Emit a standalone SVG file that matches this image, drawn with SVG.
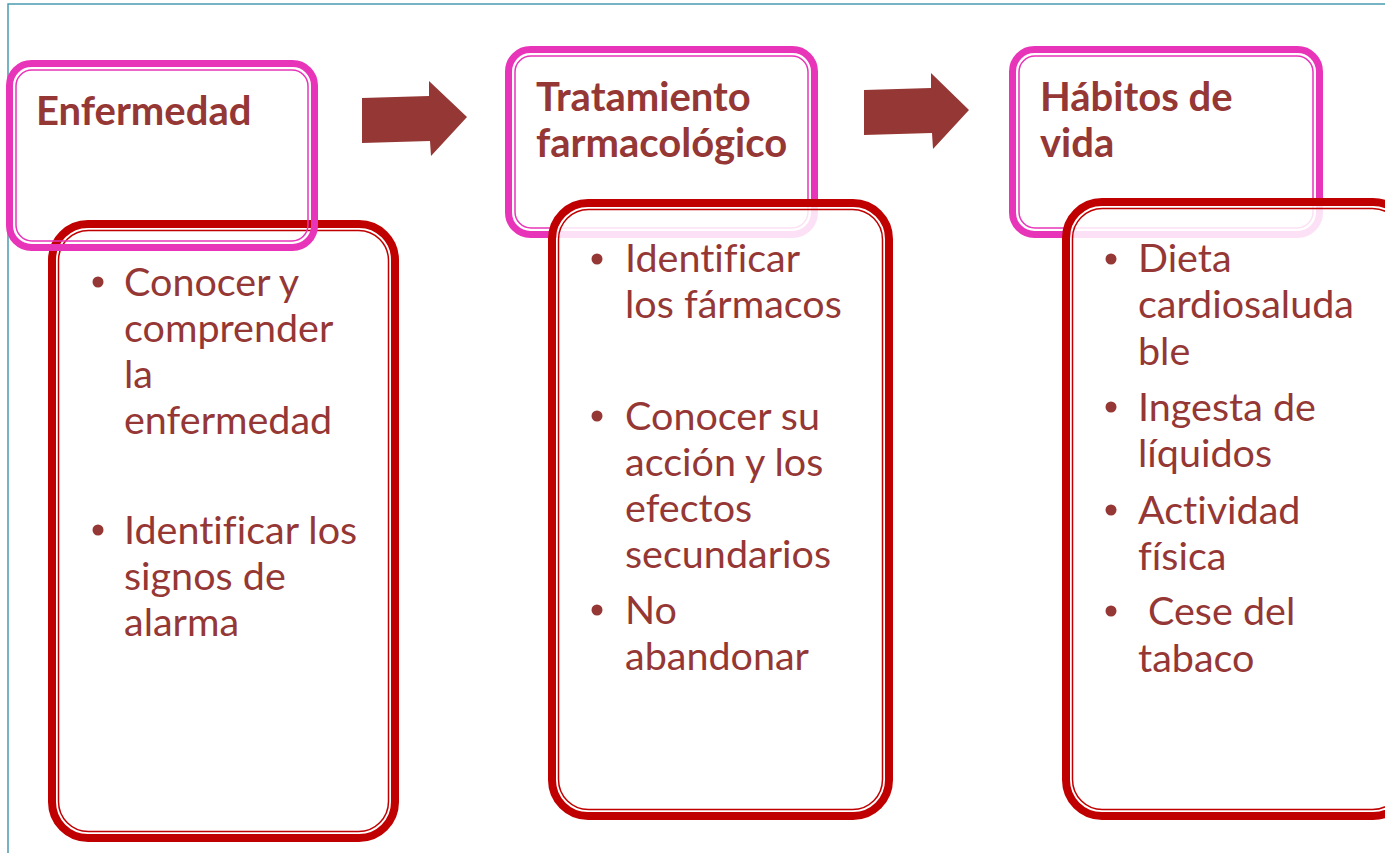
<svg xmlns="http://www.w3.org/2000/svg" width="1385" height="853" viewBox="0 0 1385 853">
<style>
.pk{fill:none;stroke:#E834B8;stroke-width:7}
.pki{fill:none;stroke:#E834B8;stroke-width:1.5}
.rd{stroke:#C00000;stroke-width:8}
.rdi{fill:none;stroke:#C00000;stroke-width:1.5}
.ttl{font-family:Lato,"Noto Sans",sans-serif;font-weight:bold;font-size:40px;fill:#953735;font-variant-ligatures:none}
.bd{font-family:Lato,"Noto Sans",sans-serif;font-size:39.5px;fill:#953735;font-variant-ligatures:none}
.bul{fill:#953735}
.arr{fill:#953735}
</style>
<rect x="0" y="0" width="1385" height="853" fill="#fff"/>
<rect x="8" y="4" width="1400" height="870" fill="none" stroke="#4A9AB0" stroke-width="1.5"/>
<g id="connectors">
<polygon class="arr" points="362,98 429,96 429,81 467,117 431,156 430,141 362,143"/>
<polygon class="arr" points="864,90 931,88 931,73 969,110 933,149 932,133 864,135"/>
</g>
<g id="node-enfermedad">
<rect class="rd" x="52" y="224" width="343" height="614" rx="36" fill="#fff"/>
<rect class="rdi" x="58.5" y="230.5" width="330" height="601" rx="30"/>
<rect class="pk" x="9.5" y="63.5" width="305" height="184" rx="22"/>
<rect class="pki" x="16" y="70" width="292" height="171" rx="16"/>
<text class="ttl" x="36" y="125">Enfermedad</text>
<circle class="bul" cx="98" cy="282" r="5.5"/>
<text class="bd" x="124" y="296">Conocer y</text>
<text class="bd" x="124" y="342">comprender</text>
<text class="bd" x="124" y="388">la</text>
<text class="bd" x="124" y="434">enfermedad</text>
<circle class="bul" cx="98" cy="530" r="5.5"/>
<text class="bd" x="124" y="544">Identificar los</text>
<text class="bd" x="124" y="590">signos de</text>
<text class="bd" x="124" y="636">alarma</text>
</g>
<g id="node-tratamiento">
<rect class="pk" x="508.5" y="49.5" width="306" height="185" rx="22"/>
<rect class="pki" x="515" y="56" width="293" height="172" rx="16"/>
<rect class="rd" x="552" y="203" width="337" height="613" rx="36" fill="#fff" fill-opacity="0.85"/>
<rect class="rdi" x="558.5" y="209.5" width="324" height="600" rx="30"/>
<text class="ttl" x="536" y="111">Tratamiento</text>
<text class="ttl" x="536" y="157">farmacológico</text>
<circle class="bul" cx="597" cy="259" r="5.5"/>
<text class="bd" x="625" y="272">Identificar</text>
<text class="bd" x="625" y="318">los fármacos</text>
<circle class="bul" cx="597" cy="416" r="5.5"/>
<text class="bd" x="625" y="430">Conocer su</text>
<text class="bd" x="625" y="476">acción y los</text>
<text class="bd" x="625" y="522">efectos</text>
<text class="bd" x="625" y="568">secundarios</text>
<circle class="bul" cx="597" cy="610" r="5.5"/>
<text class="bd" x="625" y="624">No</text>
<text class="bd" x="625" y="670">abandonar</text>
</g>
<g id="node-habitos">
<rect class="pk" x="1012.5" y="49.5" width="307" height="185" rx="22"/>
<rect class="pki" x="1019" y="56" width="294" height="172" rx="16"/>
<rect class="rd" x="1066" y="202" width="343" height="614" rx="36" fill="#fff" fill-opacity="0.85"/>
<rect class="rdi" x="1072.5" y="208.5" width="330" height="601" rx="30"/>
<text class="ttl" x="1040" y="111">Hábitos de</text>
<text class="ttl" x="1040" y="157">vida</text>
<circle class="bul" cx="1111" cy="259" r="5.5"/>
<text class="bd" x="1138" y="272">Dieta</text>
<text class="bd" x="1138" y="318">cardiosaluda</text>
<text class="bd" x="1138" y="365">ble</text>
<circle class="bul" cx="1111" cy="407" r="5.5"/>
<text class="bd" x="1138" y="421">Ingesta de</text>
<text class="bd" x="1138" y="467">líquidos</text>
<circle class="bul" cx="1111" cy="510" r="5.5"/>
<text class="bd" x="1138" y="524">Actividad</text>
<text class="bd" x="1138" y="570">física</text>
<circle class="bul" cx="1111" cy="611" r="5.5"/>
<text class="bd" x="1148" y="625">Cese del</text>
<text class="bd" x="1138" y="672">tabaco</text>
</g>
</svg>
